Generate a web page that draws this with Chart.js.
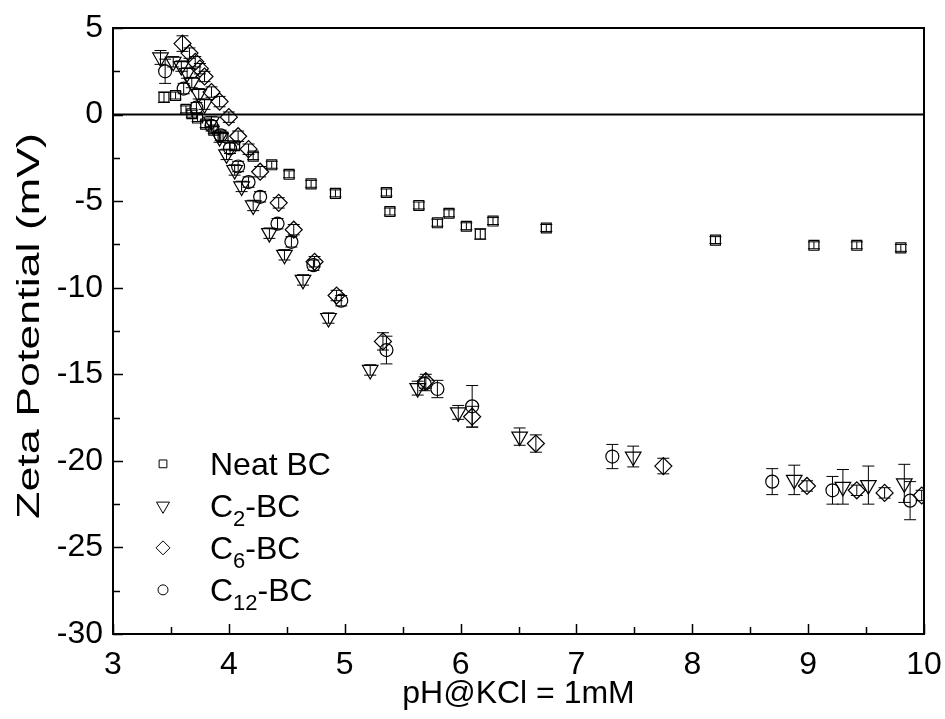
<!DOCTYPE html>
<html><head><meta charset="utf-8">
<script src="https://cdn.jsdelivr.net/npm/chart.js@4"></script>
<style>html,body{margin:0;padding:0;background:#fff;}#wrap{width:945px;height:719px;position:relative;}</style>
</head><body><div id="wrap"><canvas id="c" width="945" height="719"></canvas></div>
<script>
// ---- data ----
const neatPH   = [3.44, 3.54, 3.63, 3.68, 3.73, 3.80, 3.87, 3.95, 4.05, 4.21, 4.37, 4.52, 4.71, 4.92, 5.36, 5.39, 5.64, 5.80, 5.90, 6.05, 6.17, 6.28, 6.74, 8.20, 9.05, 9.42, 9.80];
const neatZeta = [1.0, 1.1, 0.3, 0.05, -0.2, -0.55, -0.9, -1.3, -1.8, -2.4, -2.9, -3.45, -4.0, -4.55, -4.5, -5.6, -5.25, -6.25, -5.7, -6.45, -6.9, -6.15, -6.55, -7.25, -7.55, -7.55, -7.7];
const neatErr  = [0.3, 0.2, 0.2, 0.2, 0.2, 0.2, 0.2, 0.2, 0.2, 0.2, 0.2, 0.2, 0.2, 0.2, 0.2, 0.2, 0.2, 0.2, 0.2, 0.2, 0.3, 0.2, 0.2, 0.2, 0.2, 0.2, 0.2];

const c2PH   = [3.41, 3.52, 3.59, 3.64, 3.68, 3.74, 3.79, 3.85, 3.92, 3.98, 4.05, 4.11, 4.21, 4.35, 4.48, 4.64, 4.86, 5.22, 5.63, 5.98, 6.51, 7.49, 8.88, 9.30, 9.52, 9.83];
const c2Zeta = [3.3, 3.05, 2.8, 2.4, 1.85, 1.2, 0.6, -0.4, -1.3, -2.3, -3.2, -4.15, -5.25, -6.85, -8.1, -9.55, -11.75, -14.75, -15.8, -17.2, -18.6, -19.75, -21.1, -21.5, -21.4, -21.3];
const c2Err  = [0.4, 0.3, 0.3, 0.3, 0.3, 0.3, 0.3, 0.3, 0.3, 0.3, 0.3, 0.3, 0.3, 0.3, 0.3, 0.3, 0.3, 0.3, 0.4, 0.4, 0.5, 0.6, 0.85, 1.0, 1.1, 1.1];

const c6PH   = [3.60, 3.66, 3.71, 3.75, 3.79, 3.85, 3.92, 4.00, 4.08, 4.17, 4.27, 4.43, 4.56, 4.74, 4.93, 5.33, 5.70, 6.10, 6.65, 7.75, 8.99, 9.42, 9.66, 9.98];
const c6Zeta = [4.1, 3.55, 3.05, 2.65, 2.2, 1.3, 0.75, -0.15, -1.25, -2.0, -3.3, -5.1, -6.65, -8.5, -10.45, -13.1, -15.4, -17.45, -19.0, -20.3, -21.45, -21.7, -21.85, -22.0];
const c6Err  = [0.45, 0.3, 0.3, 0.3, 0.3, 0.3, 0.3, 0.3, 0.3, 0.3, 0.3, 0.3, 0.3, 0.3, 0.3, 0.5, 0.4, 0.6, 0.5, 0.45, 0.3, 0.3, 0.3, 0.3];

const c12PH   = [3.45, 3.61, 3.72, 3.85, 3.93, 4.01, 4.08, 4.17, 4.27, 4.42, 4.54, 4.73, 4.97, 5.36, 5.69, 5.80, 6.10, 7.31, 8.69, 9.21, 9.88];
const c12Zeta = [2.5, 1.5, 0.4, -0.65, -1.2, -1.95, -3.0, -3.9, -4.75, -6.3, -7.35, -8.7, -10.75, -13.6, -15.55, -15.85, -16.85, -19.75, -21.2, -21.7, -22.3];
const c12Err  = [0.7, 0.3, 0.3, 0.3, 0.3, 0.3, 0.3, 0.3, 0.3, 0.3, 0.3, 0.3, 0.3, 0.8, 0.4, 0.5, 1.2, 0.7, 0.75, 0.8, 1.1];

const seriesNames = ['Neat BC', 'C2-BC', 'C6-BC', 'C12-BC'];
const xTickValues = [3, 4, 5, 6, 7, 8, 9, 10];
const yTickValues = [-30, -25, -20, -15, -10, -5, 0, 5];
const xTitle = 'pH@KCl = 1mM';
const yTitle = 'Zeta Potential (mV)';

// ---- build ----
const FONT = "'Liberation Sans', Arial, sans-serif";
function pts(xs, ys, es){ return xs.map((x,i)=>({x:x, y:ys[i], err:es[i]})); }
function ds(label, data, style, rot, r){
  return {label, data, pointStyle: style, rotation: rot, pointRadius: r, pointHoverRadius: r,
    borderColor:'#000', backgroundColor:'rgba(0,0,0,0)', pointBorderWidth:1.2, showLine:false, clip:0};
}
const datasets = [
  ds(seriesNames[0], pts(neatPH, neatZeta, neatErr), 'rect', 0, 7),
  ds(seriesNames[1], pts(c2PH, c2Zeta, c2Err), 'triangle', 180, 9),
  ds(seriesNames[2], pts(c6PH, c6Zeta, c6Err), 'rectRot', 0, 8.5),
  ds(seriesNames[3], pts(c12PH, c12Zeta, c12Err), 'circle', 0, 6.5)
];

const errorBars = {
  id:'errorBars',
  afterDatasetsDraw(chart){
    const {ctx, chartArea:a, scales:{x, y}} = chart;
    ctx.save();
    ctx.beginPath(); ctx.rect(a.left, a.top, a.right-a.left, a.bottom-a.top); ctx.clip();
    ctx.strokeStyle = '#000'; ctx.lineWidth = 1;
    chart.data.datasets.forEach(d => {
      d.data.forEach(p => {
        const px = x.getPixelForValue(p.x);
        const yt = y.getPixelForValue(p.y + p.err);
        const yb = y.getPixelForValue(p.y - p.err);
        ctx.beginPath();
        ctx.moveTo(px, yt); ctx.lineTo(px, yb);
        ctx.moveTo(px-6, yt); ctx.lineTo(px+6, yt);
        ctx.moveTo(px-6, yb); ctx.lineTo(px+6, yb);
        ctx.stroke();
      });
    });
    ctx.restore();
  }
};

const frame = {
  id:'frame',
  beforeDatasetsDraw(chart){
    const {ctx, chartArea:a, scales:{y}} = chart;
    const y0 = y.getPixelForValue(0);
    ctx.save(); ctx.strokeStyle='#000'; ctx.lineWidth=2;
    ctx.beginPath(); ctx.moveTo(a.left, y0); ctx.lineTo(a.right, y0); ctx.stroke();
    ctx.restore();
  },
  afterDraw(chart){
    const {ctx, chartArea:a, scales:{x, y}} = chart;
    ctx.save(); ctx.strokeStyle='#000'; ctx.lineWidth=2;
    ctx.strokeRect(a.left, a.top, a.right-a.left, a.bottom-a.top);
    ctx.lineWidth = 1.5;
    ctx.beginPath();
    for (let v = x.min; v <= x.max + 1e-9; v += 0.5) {
      const px = Math.round(x.getPixelForValue(v)) + 0.5;
      const len = Number.isInteger(v) ? 10 : 7;
      ctx.moveTo(px, a.bottom); ctx.lineTo(px, a.bottom - len);
    }
    for (let v = y.min; v <= y.max + 1e-9; v += 2.5) {
      const py = Math.round(y.getPixelForValue(v)) + 0.5;
      const len = (v % 5 === 0) ? 10 : 7;
      ctx.moveTo(a.left, py); ctx.lineTo(a.left + len, py);
    }
    ctx.stroke();
    // y-axis title (stretched along its length as in the reference)
    ctx.fillStyle = '#000';
    ctx.translate(30, (a.top + a.bottom) / 2 - 5);
    ctx.rotate(-Math.PI / 2);
    ctx.scale(1.4, 1);
    ctx.font = '32px ' + FONT;
    ctx.textAlign = 'center'; ctx.textBaseline = 'middle';
    ctx.fillText(yTitle, 0, 0);
    ctx.restore();
  }
};

const legendItems = [
  {main:'Neat BC', sub:'', rest:'', style:'rect', rot:0, r:5.5},
  {main:'C', sub:'2', rest:'-BC', style:'triangle', rot:180, r:7.5},
  {main:'C', sub:'6', rest:'-BC', style:'rectRot', rot:0, r:7},
  {main:'C', sub:'12', rest:'-BC', style:'circle', rot:0, r:5}
];
const customLegend = {
  id:'customLegend',
  afterDraw(chart){
    const ctx = chart.ctx;
    const x0 = chart.chartArea.left + 50, tx = chart.chartArea.left + 97;
    const top = chart.scales.y.getPixelForValue(-20) + 3, step = 42;
    ctx.save();
    legendItems.forEach((it, i) => {
      const cy = top + i*step;
      ctx.strokeStyle = '#000'; ctx.lineWidth = 1; ctx.fillStyle = 'rgba(0,0,0,0)';
      Chart.helpers.drawPoint(ctx, {pointStyle: it.style, rotation: it.rot, radius: it.r, borderWidth: 1}, x0, cy);
      ctx.fillStyle = '#000'; ctx.textBaseline = 'alphabetic'; ctx.textAlign = 'left';
      const base = cy + 11.5;
      ctx.font = '32px ' + FONT;
      ctx.fillText(it.main, tx, base);
      let cx = tx + ctx.measureText(it.main).width;
      if (it.sub) {
        ctx.font = '22px ' + FONT;
        ctx.fillText(it.sub, cx, base + 9);
        cx += ctx.measureText(it.sub).width;
        ctx.font = '32px ' + FONT;
        ctx.fillText(it.rest, cx, base);
      }
    });
    ctx.restore();
  }
};

new Chart(document.getElementById('c'), {
  type:'scatter',
  data:{datasets},
  plugins:[frame, errorBars, customLegend],
  options:{
    responsive:false, animation:false, devicePixelRatio:1,
    layout:{padding:{top:28, right:21, left:0, bottom:0}},
    plugins:{legend:{display:false}, tooltip:{enabled:false}},
    scales:{
      x:{type:'linear', min:3, max:10,
        afterFit(s){ s.height = 85; s.paddingLeft = 0; s.paddingRight = 0; },
        afterBuildTicks(s){ s.ticks = xTickValues.map(v=>({value:v})); },
        grid:{display:false, drawTicks:false},
        border:{display:true, color:'#000', width:2},
        ticks:{color:'#000', padding:12, font:{family:FONT, size:32}, maxRotation:0, autoSkip:false},
        title:{display:true, text:xTitle, color:'#000', font:{family:FONT, size:32}, padding:{top:0, bottom:6}}
      },
      y:{type:'linear', min:-30, max:5,
        afterFit(s){ s.width = 113; s.paddingTop = 0; s.paddingBottom = 0; },
        afterBuildTicks(s){ s.ticks = yTickValues.map(v=>({value:v})); },
        grid:{display:false, drawTicks:false},
        border:{display:true, color:'#000', width:2},
        ticks:{color:'#000', padding:10, font:{family:FONT, size:32}, autoSkip:false},
        title:{display:false, text:yTitle}
      }
    }
  }
});
</script></body></html>
